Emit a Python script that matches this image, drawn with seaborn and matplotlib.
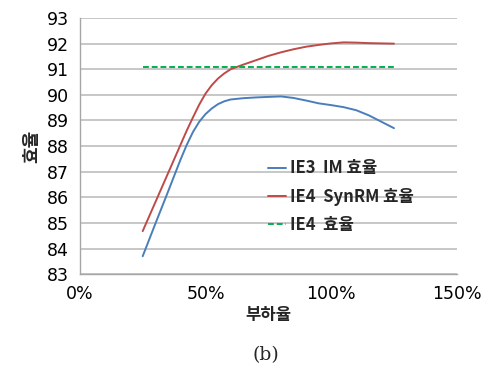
import matplotlib
matplotlib.use("Agg")
import matplotlib.pyplot as plt
import pandas as pd
import seaborn as sns

# load ratio (fraction of rated load)
load = [0.25, 0.30, 0.35, 0.40, 0.425, 0.45, 0.475, 0.50, 0.525, 0.55, 0.575, 0.60,
        0.65, 0.70, 0.75, 0.80, 0.85, 0.90, 0.95, 1.00, 1.05, 1.10, 1.15, 1.20, 1.25]

ie3_im = [83.7, 84.96, 86.2, 87.46, 88.04, 88.55, 88.95, 89.25, 89.47, 89.64, 89.75, 89.82,
          89.87, 89.9, 89.92, 89.94, 89.88, 89.78, 89.67, 89.6, 89.52, 89.4, 89.2, 88.95, 88.7]

ie4_synrm = [84.68, 85.8, 86.92, 88.04, 88.6, 89.12, 89.62, 90.05, 90.38, 90.64, 90.84, 91.0,
             91.18, 91.35, 91.52, 91.66, 91.78, 91.88, 91.95, 92.01, 92.05, 92.04, 92.02, 92.01, 92.0]

ie4_line_x = [0.25, 1.25]
ie4_line_y = [91.1, 91.1]

series_names = ["IE3  IM 효율", "IE4  SynRM 효율", "IE4  효율"]
x_ticks = [0, 0.5, 1.0, 1.5]
x_tick_labels = ["0%", "50%", "100%", "150%"]
y_ticks = list(range(83, 94))

sns.set_style("white")
plt.rcParams["font.family"] = ["Noto Sans CJK KR", "DejaVu Sans"]

df = pd.DataFrame({"load": load, "ie3": ie3_im, "ie4s": ie4_synrm})

fig = plt.figure(figsize=(4.87, 3.68), dpi=100)
ax = fig.add_axes([0.164, 0.255, 0.774, 0.696])

ax.grid(axis="y", color="#bdbdbd", linewidth=1.2)
ax.set_axisbelow(True)

sns.lineplot(data=df, x="load", y="ie3", ax=ax, color="#4a7ebb", linewidth=1.4,
             label=series_names[0])
sns.lineplot(data=df, x="load", y="ie4s", ax=ax, color="#be4b48", linewidth=1.4,
             label=series_names[1])
sns.lineplot(x=ie4_line_x, y=ie4_line_y, ax=ax, color="#00b050", linewidth=1.4,
             linestyle=(0, (3, 1.5)), label=series_names[2])

ax.set_xlim(0, 1.5)
ax.set_ylim(83, 93)
ax.set_xticks(x_ticks)
ax.set_xticklabels(x_tick_labels)
ax.set_yticks(y_ticks)

for sp in ["top", "right"]:
    ax.spines[sp].set_visible(False)
for sp in ["left", "bottom"]:
    ax.spines[sp].set_color("#a6a6a6")
    ax.spines[sp].set_linewidth(1.0)

ax.tick_params(axis="both", direction="out", length=4, color="#a6a6a6",
               labelsize=12.5, labelcolor="black", pad=4)
for lab in ax.get_xticklabels() + ax.get_yticklabels():
    lab.set_family("DejaVu Sans")

ax.set_xlabel("부하율", fontsize=12, fontweight="bold", labelpad=2)
ax.set_ylabel("효율", fontsize=13, fontweight="bold", labelpad=4)

leg = ax.legend(loc="upper left", bbox_to_anchor=(0.499, 0.448), frameon=False,
                borderpad=0, borderaxespad=0,
                handlelength=1.1, handletextpad=0.25, labelspacing=0.62,
                prop={"size": 12, "weight": "bold"})

fig.text(0.545, 13 / 368, "(b)", fontsize=13.5, family="DejaVu Serif",
         ha="center", va="center")

fig.savefig("out.png", dpi=100)
